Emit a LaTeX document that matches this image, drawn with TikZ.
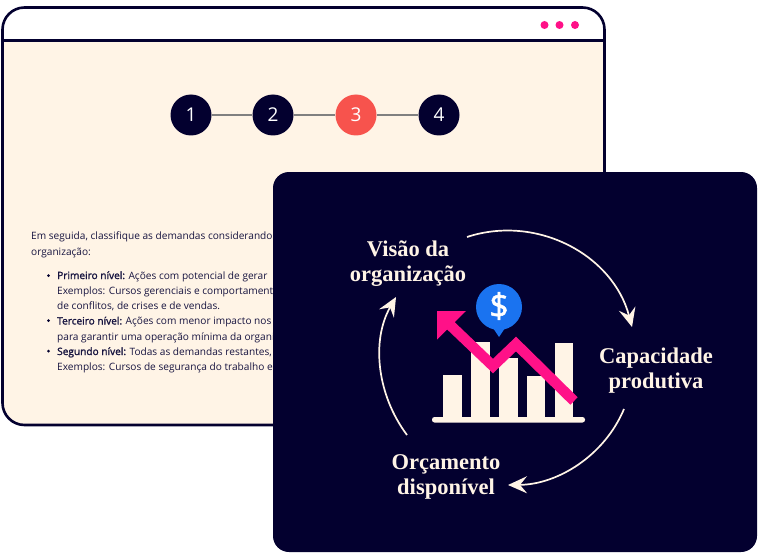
\documentclass[tikz,border=0pt]{standalone}
\usepackage{fontspec}
\setmainfont{Open Sans}[BoldFont={Open Sans Bold},AutoFakeBold=1.5]
\newfontfamily\labelfont{Liberation Serif}[BoldFont={Liberation Serif Bold}]
\usetikzlibrary{arrows.meta}
\definecolor{navy}{HTML}{03002F}
\definecolor{cream}{HTML}{FFF4E6}
\definecolor{hotpink}{HTML}{FF1188}
\definecolor{coral}{HTML}{F7534D}
\definecolor{pinblue}{HTML}{1A73F0}
\tikzset{
 stepdot/.style={circle,fill=navy,minimum size=41pt,inner sep=0pt,text=white,font=\fontsize{19}{19}\selectfont},
 stepline/.style={draw=black!50,line width=1.6pt},
 bar/.style={fill=cream,draw=none},
 body/.style={anchor=base west,inner sep=0pt,text=navy!92!white,font=\fontsize{10.12}{10}\selectfont},
 lab/.style={align=center,text=cream,inner sep=0pt,font=\labelfont\bfseries\fontsize{22.5}{25}\selectfont},
 cycle/.style={draw=cream,line width=1.7pt,-{Stealth[length=19pt,width=17pt,inset=7pt,fill=cream]}},
 dot/.style={circle,fill=hotpink,minimum size=8pt,inner sep=0pt},
}
\begin{document}
\begin{tikzpicture}[x=1pt,y=-1pt]
\useasboundingbox (0,0) rectangle (763,559);
% window
\fill[cream,rounded corners=22pt] (2,7) rectangle (605,425);
\fill[white,rounded corners=22pt] (2,7) -- (605,7) -- (605,60) -- (2,60) -- cycle;
\fill[cream] (3,40) rectangle (604,70);
\draw[navy,line width=2.6pt,rounded corners=22pt] (2.5,7.5) rectangle (604.5,425);
\draw[navy,line width=2.6pt] (2.5,40.5) -- (604.5,40.5);
\node[dot] (d1) at (544.5,25) {};
\node[dot] (d2) at (559.5,25) {};
\node[dot] (d3) at (575,25) {};
% steps
\node[stepdot] (s1) at (191,115) {1};
\node[stepdot] (s2) at (273,115) {2};
\node[stepdot,fill=coral] (s3) at (356,115) {3};
\node[stepdot] (s4) at (439,115) {4};
\draw[stepline] (s1) -- (s2);
\draw[stepline] (s2) -- (s3);
\draw[stepline] (s3) -- (s4);
% text
\node[body] (t1) at (31,239.5) {Em seguida, classifique as demandas considerando};
\node[body] (t2) at (31,255) {organização:};
\node[body] (t3) at (57,279) {\textbf{Primeiro nível:} Ações com potencial de gerar};
\node[body] (t4) at (57,294.5) {Exemplos: Cursos gerenciais e comportamentais};
\node[body] (t5) at (57,309.5) {de conflitos, de crises e de vendas.};
\node[body] (t6) at (57,324.5) {\textbf{Terceiro nível:} Ações com menor impacto nos};
\node[body] (t7) at (57,340) {para garantir uma operação mínima da organização};
\node[body] (t8) at (57,355) {\textbf{Segundo nível:} Todas as demandas restantes,};
\node[body] (t9) at (57,370.5) {Exemplos: Cursos de segurança do trabalho e};
\fill[navy] (48.5,275.5) circle (1.5) (48.5,320.5) circle (1.5) (48.5,351) circle (1.5);
% panel
\fill[navy,rounded corners=16pt] (273,172) rectangle (757,552);
% labels
\node[lab] (visao) at (408,263.5) {Visão da\\organização};
\node[lab] (cap) at (656,370.5) {Capacidade\\produtiva};
\node[lab] (orc) at (446,476.5) {Orçamento\\disponível};
% cycle arrows
\coordinate (a1s) at (467,237); \coordinate (a1e) at (632,327);
\coordinate (a2s) at (624,409); \coordinate (a2e) at (508,485);
\coordinate (a3s) at (407,435); \coordinate (a3e) at (396,297);
\draw[cycle] (a1s) .. controls (537,214) and (613,255) .. (a1e);
\draw[cycle] (a2s) .. controls (604.5,455.5) and (558,484.5) .. (a2e);
\draw[cycle] (a3s) .. controls (377,395) and (371,340.5) .. (a3e);
% chart
\fill[bar] (443,375) rectangle (462,418);
\fill[bar] (471,342) rectangle (490,418);
\fill[bar] (499,358) rectangle (518,418);
\fill[bar] (527,376) rectangle (545,418);
\fill[bar] (555,343) rectangle (573,418);
\fill[cream,rounded corners=2.5pt] (432,417) rectangle (585,422.5);
% pin
\fill[pinblue] (499,307) circle (23);
\fill[pinblue] (493,328) -- (499,337) -- (505,328) -- cycle;
\node[text=white,inner sep=0pt,font=\bfseries\fontsize{34}{34}\selectfont] (dollar) at (499,306) {\$};
% pink arrow
\draw[hotpink,line width=10.5pt,miter limit=10] (574,401) -- (516,344) -- (493,366) -- (449,324);
\fill[hotpink] (437,311) -- (466,311) -- (437,339.5) -- cycle;
\end{tikzpicture}
\end{document}
